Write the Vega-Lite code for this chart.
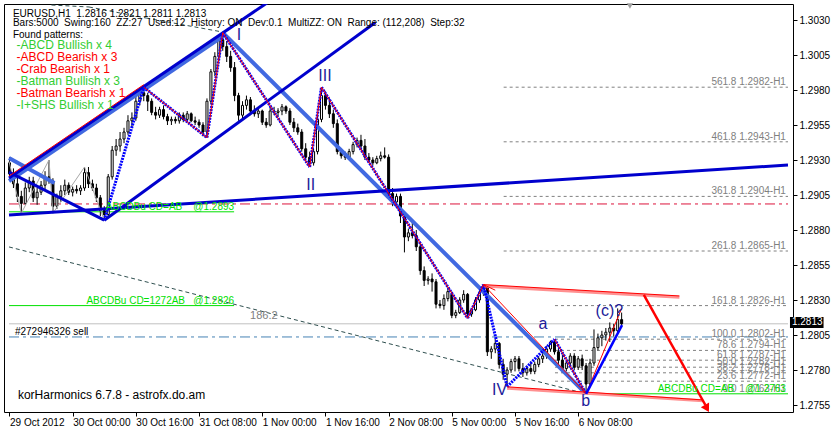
{
"$schema":"https://vega.github.io/schema/vega-lite/v6.json",
"width":789,"height":408,"autosize":"none",
"padding":{"left":4,"top":4,"right":42,"bottom":20},
"background":"white",
"config":{"view":{"stroke":"black","strokeWidth":1},"axis":{"grid":false,"domain":false}},
"datasets":{"candles":[
{"i":0,"o":1.2928,"h":1.2932,"l":1.2918,"c":1.2920},
{"i":1,"o":1.2920,"h":1.2924,"l":1.2910,"c":1.2913},
{"i":2,"o":1.2913,"h":1.2922,"l":1.2900,"c":1.2904},
{"i":3,"o":1.2904,"h":1.2908,"l":1.2892,"c":1.2899},
{"i":4,"o":1.2899,"h":1.2914,"l":1.2898,"c":1.2910},
{"i":5,"o":1.2910,"h":1.2918,"l":1.2907,"c":1.2915},
{"i":6,"o":1.2915,"h":1.2918,"l":1.2900,"c":1.2903},
{"i":7,"o":1.2903,"h":1.2910,"l":1.2898,"c":1.2907},
{"i":8,"o":1.2907,"h":1.2915,"l":1.2905,"c":1.2912},
{"i":9,"o":1.2912,"h":1.2922,"l":1.2909,"c":1.2918},
{"i":10,"o":1.2918,"h":1.2930,"l":1.2913,"c":1.2915},
{"i":11,"o":1.2915,"h":1.2917,"l":1.2892,"c":1.2897},
{"i":12,"o":1.2897,"h":1.2906,"l":1.2895,"c":1.2904},
{"i":13,"o":1.2904,"h":1.2912,"l":1.2900,"c":1.2908},
{"i":14,"o":1.2908,"h":1.2916,"l":1.2905,"c":1.2912},
{"i":15,"o":1.2912,"h":1.2914,"l":1.2905,"c":1.2907},
{"i":16,"o":1.2907,"h":1.2911,"l":1.2904,"c":1.2909},
{"i":17,"o":1.2909,"h":1.2912,"l":1.2906,"c":1.2908},
{"i":18,"o":1.2908,"h":1.2912,"l":1.2905,"c":1.2910},
{"i":19,"o":1.2910,"h":1.2925,"l":1.2908,"c":1.2921},
{"i":20,"o":1.2921,"h":1.2925,"l":1.2910,"c":1.2913},
{"i":21,"o":1.2913,"h":1.2916,"l":1.2908,"c":1.2910},
{"i":22,"o":1.2910,"h":1.2913,"l":1.2900,"c":1.2903},
{"i":23,"o":1.2903,"h":1.2905,"l":1.2890,"c":1.2894},
{"i":24,"o":1.2894,"h":1.2897,"l":1.2887,"c":1.2891},
{"i":25,"o":1.2891,"h":1.2920,"l":1.2889,"c":1.2918},
{"i":26,"o":1.2918,"h":1.2940,"l":1.2916,"c":1.2937},
{"i":27,"o":1.2937,"h":1.2945,"l":1.2933,"c":1.2940},
{"i":28,"o":1.2940,"h":1.2950,"l":1.2936,"c":1.2945},
{"i":29,"o":1.2945,"h":1.2953,"l":1.2942,"c":1.2950},
{"i":30,"o":1.2950,"h":1.2962,"l":1.2948,"c":1.2958},
{"i":31,"o":1.2958,"h":1.2964,"l":1.2953,"c":1.2960},
{"i":32,"o":1.2960,"h":1.2976,"l":1.2958,"c":1.2972},
{"i":33,"o":1.2972,"h":1.2980,"l":1.2969,"c":1.2978},
{"i":34,"o":1.2978,"h":1.2982,"l":1.2972,"c":1.2976},
{"i":35,"o":1.2976,"h":1.2978,"l":1.2965,"c":1.2972},
{"i":36,"o":1.2972,"h":1.2974,"l":1.2962,"c":1.2964},
{"i":37,"o":1.2964,"h":1.2968,"l":1.2959,"c":1.2962},
{"i":38,"o":1.2962,"h":1.2968,"l":1.2960,"c":1.2966},
{"i":39,"o":1.2966,"h":1.2969,"l":1.2959,"c":1.2961},
{"i":40,"o":1.2961,"h":1.2963,"l":1.2955,"c":1.2958},
{"i":41,"o":1.2958,"h":1.2961,"l":1.2955,"c":1.2959},
{"i":42,"o":1.2959,"h":1.2961,"l":1.2956,"c":1.2958},
{"i":43,"o":1.2958,"h":1.2964,"l":1.2956,"c":1.2962},
{"i":44,"o":1.2962,"h":1.2964,"l":1.2957,"c":1.2959},
{"i":45,"o":1.2959,"h":1.2965,"l":1.2957,"c":1.2963},
{"i":46,"o":1.2963,"h":1.2964,"l":1.2957,"c":1.2958},
{"i":47,"o":1.2958,"h":1.2961,"l":1.2955,"c":1.2957},
{"i":48,"o":1.2957,"h":1.2959,"l":1.2953,"c":1.2955},
{"i":49,"o":1.2955,"h":1.2957,"l":1.2947,"c":1.2950},
{"i":50,"o":1.2950,"h":1.2974,"l":1.2946,"c":1.2972},
{"i":51,"o":1.2972,"h":1.2995,"l":1.2970,"c":1.2993},
{"i":52,"o":1.2993,"h":1.3007,"l":1.2990,"c":1.3004},
{"i":53,"o":1.3004,"h":1.3018,"l":1.3001,"c":1.3016},
{"i":54,"o":1.3016,"h":1.3021,"l":1.3008,"c":1.3011},
{"i":55,"o":1.3011,"h":1.3015,"l":1.3000,"c":1.3004},
{"i":56,"o":1.3004,"h":1.3008,"l":1.2993,"c":1.2996},
{"i":57,"o":1.2996,"h":1.3000,"l":1.2972,"c":1.2976},
{"i":58,"o":1.2976,"h":1.2978,"l":1.2958,"c":1.2962},
{"i":59,"o":1.2962,"h":1.2972,"l":1.2960,"c":1.2969},
{"i":60,"o":1.2969,"h":1.2976,"l":1.2966,"c":1.2973},
{"i":61,"o":1.2973,"h":1.2975,"l":1.2962,"c":1.2965},
{"i":62,"o":1.2965,"h":1.2969,"l":1.2961,"c":1.2963},
{"i":63,"o":1.2963,"h":1.2967,"l":1.2960,"c":1.2965},
{"i":64,"o":1.2965,"h":1.2966,"l":1.2955,"c":1.2957},
{"i":65,"o":1.2957,"h":1.2960,"l":1.2953,"c":1.2955},
{"i":66,"o":1.2955,"h":1.2968,"l":1.2954,"c":1.2965},
{"i":67,"o":1.2965,"h":1.2968,"l":1.2962,"c":1.2964},
{"i":68,"o":1.2964,"h":1.2967,"l":1.2961,"c":1.2965},
{"i":69,"o":1.2965,"h":1.2970,"l":1.2962,"c":1.2968},
{"i":70,"o":1.2968,"h":1.2969,"l":1.2963,"c":1.2965},
{"i":71,"o":1.2965,"h":1.2967,"l":1.2955,"c":1.2957},
{"i":72,"o":1.2957,"h":1.2960,"l":1.2950,"c":1.2953},
{"i":73,"o":1.2953,"h":1.2956,"l":1.2948,"c":1.2950},
{"i":74,"o":1.2950,"h":1.2952,"l":1.2936,"c":1.2938},
{"i":75,"o":1.2938,"h":1.2942,"l":1.2930,"c":1.2932},
{"i":76,"o":1.2932,"h":1.2936,"l":1.2925,"c":1.2928},
{"i":77,"o":1.2928,"h":1.2938,"l":1.2926,"c":1.2936},
{"i":78,"o":1.2936,"h":1.2962,"l":1.2934,"c":1.2959},
{"i":79,"o":1.2959,"h":1.2982,"l":1.2957,"c":1.2976},
{"i":80,"o":1.2976,"h":1.2979,"l":1.2966,"c":1.2969},
{"i":81,"o":1.2969,"h":1.2974,"l":1.2960,"c":1.2963},
{"i":82,"o":1.2963,"h":1.2966,"l":1.2953,"c":1.2956},
{"i":83,"o":1.2956,"h":1.2959,"l":1.2934,"c":1.2936},
{"i":84,"o":1.2936,"h":1.2938,"l":1.2931,"c":1.2933},
{"i":85,"o":1.2933,"h":1.2936,"l":1.2930,"c":1.2932},
{"i":86,"o":1.2932,"h":1.2938,"l":1.2931,"c":1.2936},
{"i":87,"o":1.2936,"h":1.2943,"l":1.2934,"c":1.2941},
{"i":88,"o":1.2941,"h":1.2946,"l":1.2939,"c":1.2944},
{"i":89,"o":1.2944,"h":1.2948,"l":1.2937,"c":1.2940},
{"i":90,"o":1.2940,"h":1.2945,"l":1.2930,"c":1.2932},
{"i":91,"o":1.2932,"h":1.2935,"l":1.2928,"c":1.2930},
{"i":92,"o":1.2930,"h":1.2932,"l":1.2926,"c":1.2928},
{"i":93,"o":1.2928,"h":1.2933,"l":1.2927,"c":1.2931},
{"i":94,"o":1.2931,"h":1.2936,"l":1.2929,"c":1.2933},
{"i":95,"o":1.2933,"h":1.2939,"l":1.2931,"c":1.2932},
{"i":96,"o":1.2932,"h":1.2934,"l":1.2903,"c":1.2906},
{"i":97,"o":1.2906,"h":1.2910,"l":1.2897,"c":1.2900},
{"i":98,"o":1.2900,"h":1.2906,"l":1.2898,"c":1.2904},
{"i":99,"o":1.2904,"h":1.2906,"l":1.2885,"c":1.2890},
{"i":100,"o":1.2890,"h":1.2892,"l":1.2864,"c":1.2875},
{"i":101,"o":1.2875,"h":1.2881,"l":1.2872,"c":1.2878},
{"i":102,"o":1.2878,"h":1.2885,"l":1.2874,"c":1.2876},
{"i":103,"o":1.2876,"h":1.2880,"l":1.2865,"c":1.2868},
{"i":104,"o":1.2868,"h":1.2870,"l":1.2848,"c":1.2851},
{"i":105,"o":1.2851,"h":1.2854,"l":1.2840,"c":1.2844},
{"i":106,"o":1.2844,"h":1.2847,"l":1.2841,"c":1.2845},
{"i":107,"o":1.2845,"h":1.2849,"l":1.2836,"c":1.2843},
{"i":108,"o":1.2843,"h":1.2845,"l":1.2824,"c":1.2827},
{"i":109,"o":1.2827,"h":1.2830,"l":1.2824,"c":1.2826},
{"i":110,"o":1.2826,"h":1.2834,"l":1.2823,"c":1.2831},
{"i":111,"o":1.2831,"h":1.2839,"l":1.2829,"c":1.2836},
{"i":112,"o":1.2834,"h":1.2836,"l":1.2817,"c":1.2819},
{"i":113,"o":1.2819,"h":1.2823,"l":1.2817,"c":1.2821},
{"i":114,"o":1.2821,"h":1.2832,"l":1.2820,"c":1.2830},
{"i":115,"o":1.2830,"h":1.2837,"l":1.2828,"c":1.2834},
{"i":116,"o":1.2834,"h":1.2835,"l":1.2817,"c":1.2820},
{"i":117,"o":1.2820,"h":1.2824,"l":1.2818,"c":1.2823},
{"i":118,"o":1.2823,"h":1.2832,"l":1.2822,"c":1.2830},
{"i":119,"o":1.2830,"h":1.2837,"l":1.2828,"c":1.2835},
{"i":120,"o":1.2835,"h":1.2841,"l":1.2833,"c":1.2839},
{"i":121,"o":1.2839,"h":1.2840,"l":1.2790,"c":1.2793},
{"i":122,"o":1.2793,"h":1.2797,"l":1.2788,"c":1.2795},
{"i":123,"o":1.2795,"h":1.2802,"l":1.2792,"c":1.2799},
{"i":124,"o":1.2799,"h":1.2800,"l":1.2781,"c":1.2784},
{"i":125,"o":1.2784,"h":1.2788,"l":1.2773,"c":1.2777},
{"i":126,"o":1.2777,"h":1.2782,"l":1.2768,"c":1.2780},
{"i":127,"o":1.2780,"h":1.2788,"l":1.2778,"c":1.2786},
{"i":128,"o":1.2786,"h":1.2790,"l":1.2779,"c":1.2788},
{"i":129,"o":1.2788,"h":1.2790,"l":1.2779,"c":1.2781},
{"i":130,"o":1.2781,"h":1.2785,"l":1.2775,"c":1.2778},
{"i":131,"o":1.2778,"h":1.2783,"l":1.2776,"c":1.2781},
{"i":132,"o":1.2781,"h":1.2786,"l":1.2777,"c":1.2779},
{"i":133,"o":1.2779,"h":1.2786,"l":1.2777,"c":1.2784},
{"i":134,"o":1.2784,"h":1.2790,"l":1.2782,"c":1.2788},
{"i":135,"o":1.2788,"h":1.2792,"l":1.2785,"c":1.2790},
{"i":136,"o":1.2790,"h":1.2797,"l":1.2788,"c":1.2795},
{"i":137,"o":1.2795,"h":1.2801,"l":1.2793,"c":1.2800},
{"i":138,"o":1.2800,"h":1.2802,"l":1.2791,"c":1.2793},
{"i":139,"o":1.2793,"h":1.2796,"l":1.2784,"c":1.2787},
{"i":140,"o":1.2787,"h":1.2791,"l":1.2778,"c":1.2781},
{"i":141,"o":1.2781,"h":1.2787,"l":1.2779,"c":1.2785},
{"i":142,"o":1.2785,"h":1.2792,"l":1.2783,"c":1.2790},
{"i":143,"o":1.2790,"h":1.2792,"l":1.2780,"c":1.2782},
{"i":144,"o":1.2782,"h":1.2790,"l":1.2780,"c":1.2788},
{"i":145,"o":1.2788,"h":1.2791,"l":1.2780,"c":1.2783},
{"i":146,"o":1.2783,"h":1.2785,"l":1.2763,"c":1.2770},
{"i":147,"o":1.2770,"h":1.2788,"l":1.2768,"c":1.2785},
{"i":148,"o":1.2785,"h":1.2809,"l":1.2783,"c":1.2796},
{"i":149,"o":1.2796,"h":1.2806,"l":1.2794,"c":1.2803},
{"i":150,"o":1.2803,"h":1.2808,"l":1.2797,"c":1.2805},
{"i":151,"o":1.2805,"h":1.2810,"l":1.2801,"c":1.2807},
{"i":152,"o":1.2807,"h":1.2814,"l":1.2800,"c":1.2810},
{"i":153,"o":1.2810,"h":1.2813,"l":1.2804,"c":1.2808},
{"i":154,"o":1.2808,"h":1.2824,"l":1.2806,"c":1.2816},
{"i":155,"o":1.2816,"h":1.2821,"l":1.2811,"c":1.2813}
]},
"encoding":{
"x":{"field":"i","type":"quantitative","scale":{"domain":[-0.125,197.125],"nice":false,"zero":false},
"axis":{"values":[0,16,32,48,64,80,96,112,128,144],"labelExpr":"['29 Oct 2012','30 Oct 00:00','30 Oct 16:00','31 Oct 08:00','1 Nov 00:00','1 Nov 16:00','2 Nov 08:00','5 Nov 00:00','5 Nov 16:00','6 Nov 08:00'][round(datum.value/16)]","labelAlign":"left","labelBaseline":"top","labelPadding":1,"labelDx":1,"tickSize":4,"tickColor":"black","title":null,"labelFont":"Liberation Sans","labelFontSize":10,"labelColor":"black","labelOverlap":false,"labelFlush":false,"labelBound":false}},
"y":{"field":"p","type":"quantitative","scale":{"domain":[1.275,1.304143],"nice":false,"zero":false},
"axis":{"orient":"right","values":[1.2755,1.278,1.2805,1.283,1.2855,1.288,1.2905,1.293,1.2955,1.298,1.3005,1.303],"format":".4f","tickSize":4,"tickColor":"black","labelPadding":2,"title":null,"labelFont":"Liberation Sans","labelFontSize":10,"labelColor":"black","labelOverlap":false,"labelFlush":false}}
},
"layer":[
{"data":{"values":[{"i":-0.125,"i2":197.125,"p":1.28986,"p2":1.28986}]},"mark":{"type":"rule","color":"#DC143C","strokeWidth":1,"strokeDash":[10,4,3,4]},"encoding":{"x2":{"field":"i2"},"y2":{"field":"p2"}}},
{"data":{"values":[{"i":-0.125,"i2":197.125,"p":1.28036,"p2":1.28036}]},"mark":{"type":"rule","color":"#4682B4","strokeWidth":1,"strokeDash":[10,4,3,4]},"encoding":{"x2":{"field":"i2"},"y2":{"field":"p2"}}},
{"data":{"values":[{"i":-0.125,"i2":197.125,"p":1.2813,"p2":1.2813}]},"mark":{"type":"rule","color":"#C0C0C0","strokeWidth":1},"encoding":{"x2":{"field":"i2"},"y2":{"field":"p2"}}},
{"data":{"values":[
{"i":125.125,"i2":197.125,"p":1.2982,"p2":1.2982},{"i":125.125,"i2":197.125,"p":1.2943,"p2":1.2943},{"i":125.125,"i2":197.125,"p":1.2904,"p2":1.2904},{"i":125.125,"i2":197.125,"p":1.2865,"p2":1.2865},
{"i":138.125,"i2":197.125,"p":1.2826,"p2":1.2826},{"i":138.125,"i2":197.125,"p":1.2802,"p2":1.2802},{"i":138.125,"i2":197.125,"p":1.2794,"p2":1.2794},{"i":138.125,"i2":197.125,"p":1.2787,"p2":1.2787},{"i":138.125,"i2":197.125,"p":1.2782,"p2":1.2782},{"i":138.125,"i2":197.125,"p":1.2778,"p2":1.2778},{"i":138.125,"i2":197.125,"p":1.2772,"p2":1.2772}]},
"mark":{"type":"rule","color":"#808080","strokeWidth":1,"strokeDash":[3,3]},"encoding":{"x2":{"field":"i2"},"y2":{"field":"p2"}}},
{"data":{"values":[{"i":-0.125,"i2":56.875,"p":1.2893,"p2":1.2893},{"i":-0.125,"i2":56.875,"p":1.2826,"p2":1.2826},{"i":146.375,"i2":197.125,"p":1.2763,"p2":1.2763}]},"mark":{"type":"rule","color":"#00E000","strokeWidth":1},"encoding":{"x2":{"field":"i2"},"y2":{"field":"p2"}}},
{"data":{"values":[{"i":-0.125,"i2":146,"p":1.28679,"p2":1.2763},{"i":10.625,"i2":20.125,"p":1.30407,"p2":1.30393},{"i":20.125,"i2":34.625,"p":1.30393,"p2":1.30314},{"i":34.625,"i2":54,"p":1.30314,"p2":1.30214}]},"mark":{"type":"rule","color":"#2F4F4F","strokeWidth":1,"strokeDash":[4,3],"clip":true},"encoding":{"x2":{"field":"i2"},"y2":{"field":"p2"}}},
{"data":{"name":"candles"},"mark":{"type":"rule","color":"black","strokeWidth":1},"encoding":{"y":{"field":"l","type":"quantitative","scale":{"domain":[1.275,1.304143],"nice":false,"zero":false},"axis":{"orient":"right","values":[1.2755,1.278,1.2805,1.283,1.2855,1.288,1.2905,1.293,1.2955,1.298,1.3005,1.303],"format":".4f","tickSize":4,"tickColor":"black","labelPadding":2,"title":null,"labelFont":"Liberation Sans","labelFontSize":10,"labelColor":"black","labelOverlap":false,"labelFlush":false}},"y2":{"field":"h"}}},
{"data":{"name":"candles"},"mark":{"type":"bar","size":2,"stroke":"black","strokeWidth":1},"encoding":{"y":{"field":"o","type":"quantitative","scale":{"domain":[1.275,1.304143],"nice":false,"zero":false},"axis":{"orient":"right","values":[1.2755,1.278,1.2805,1.283,1.2855,1.288,1.2905,1.293,1.2955,1.298,1.3005,1.303],"format":".4f","tickSize":4,"tickColor":"black","labelPadding":2,"title":null,"labelFont":"Liberation Sans","labelFontSize":10,"labelColor":"black","labelOverlap":false,"labelFlush":false}},"y2":{"field":"c"},"fill":{"condition":{"test":"datum.c >= datum.o","value":"white"},"value":"black"}}},
{"data":{"values":[{"i":-0.125,"i2":3,"p":1.2929,"p2":1.2892},{"i":3,"i2":10,"p":1.2892,"p2":1.2930},{"i":10,"i2":11,"p":1.2930,"p2":1.2892},{"i":11,"i2":19,"p":1.2892,"p2":1.2925},{"i":19,"i2":24,"p":1.2925,"p2":1.2887}]},"mark":{"type":"rule","color":"#A8A8A8","strokeWidth":1},"encoding":{"x2":{"field":"i2"},"y2":{"field":"p2"}}},
{"data":{"values":[{"i":-0.125,"i2":11.375,"p":1.29314,"p2":1.29136},{"i":54,"i2":146,"p":1.3021,"p2":1.2763},{"i":-0.125,"i2":54.375,"p":1.2915,"p2":1.3019}]},"mark":{"type":"rule","color":"#4169E1","strokeWidth":4,"clip":true},"encoding":{"x2":{"field":"i2"},"y2":{"field":"p2"}}},
{"data":{"values":[{"i":-0.125,"i2":66,"p":1.29171,"p2":1.30437},{"i":24,"i2":92.625,"p":1.2887,"p2":1.30282},{"i":-0.125,"i2":24,"p":1.29214,"p2":1.2887},{"i":-0.125,"i2":197.125,"p":1.28907,"p2":1.29264}]},"mark":{"type":"rule","color":"#0000CD","strokeWidth":3,"clip":true},"encoding":{"x2":{"field":"i2"},"y2":{"field":"p2"}}},
{"data":{"values":[{"i":120,"i2":169.625,"p":1.2840,"p2":1.2832},{"i":126,"i2":175.625,"p":1.2767,"p2":1.2758}]},"mark":{"type":"rule","color":"#FF9090","strokeWidth":3},"encoding":{"x2":{"field":"i2"},"y2":{"field":"p2"}}},
{"data":{"values":[{"i":24,"i2":34,"p":1.2887,"p2":1.2982},{"i":34,"i2":50,"p":1.2982,"p2":1.2946},{"i":50,"i2":54,"p":1.2946,"p2":1.3021},{"i":54,"i2":76,"p":1.3021,"p2":1.2925},{"i":76,"i2":79,"p":1.2925,"p2":1.2982},{"i":79,"i2":116,"p":1.2982,"p2":1.2817},{"i":116,"i2":120,"p":1.2817,"p2":1.2841},{"i":120,"i2":126,"p":1.2841,"p2":1.2768},{"i":126,"i2":138,"p":1.2768,"p2":1.2802},{"i":138,"i2":146,"p":1.2802,"p2":1.2763}]},"mark":{"type":"rule","color":"#0000FF","strokeWidth":3,"strokeDash":[2,1]},"encoding":{"x2":{"field":"i2"},"y2":{"field":"p2"}}},
{"data":{"values":[{"i":34,"i2":50,"p":1.2982,"p2":1.2946},{"i":50,"i2":54,"p":1.2946,"p2":1.3021},{"i":54,"i2":76,"p":1.3021,"p2":1.2925},{"i":76,"i2":79,"p":1.2925,"p2":1.2982},{"i":79,"i2":116,"p":1.2982,"p2":1.2817},{"i":116,"i2":120,"p":1.2817,"p2":1.2841},{"i":120,"i2":146,"p":1.2841,"p2":1.2763},{"i":138,"i2":146,"p":1.2802,"p2":1.2763},{"i":146,"i2":155,"p":1.2763,"p2":1.2824},{"i":120,"i2":169.625,"p":1.2841,"p2":1.28329},{"i":126,"i2":175.625,"p":1.2768,"p2":1.27586},{"i":-0.125,"i2":34,"p":1.29185,"p2":1.29838},{"i":120,"i2":123,"p":1.2841,"p2":1.2837}]},"mark":{"type":"rule","color":"#FF0000","strokeWidth":1,"clip":true},"encoding":{"x2":{"field":"i2"},"y2":{"field":"p2"}}},
{"data":{"values":[{"i":160.625,"i2":176.2,"p":1.28336,"p2":1.2755}]},"mark":{"type":"rule","color":"#FF0000","strokeWidth":2.5},"encoding":{"x2":{"field":"i2"},"y2":{"field":"p2"}}},
{"data":{"values":[{"i":146,"i2":155.1,"p":1.2763,"p2":1.28121}]},"mark":{"type":"rule","color":"#0000FF","strokeWidth":2.5},"encoding":{"x2":{"field":"i2"},"y2":{"field":"p2"}}},
{"data":{"values":[{"i":176.6,"p":1.27525}]},"mark":{"type":"point","shape":"triangle-down","angle":331,"size":90,"filled":true,"color":"#FF0000","opacity":1}},
{"data":{"values":[{"i":157.1,"p":1.3040}]},"mark":{"type":"point","shape":"triangle-down","size":40,"filled":true,"color":"#A0A0A0","opacity":1}},
{"data":{"values":[
{"i":196.6,"p":1.2982,"t":"561.8 1.2982-H1"},{"i":196.6,"p":1.2943,"t":"461.8 1.2943-H1"},{"i":196.6,"p":1.2904,"t":"361.8 1.2904-H1"},{"i":196.6,"p":1.2865,"t":"261.8 1.2865-H1"},{"i":196.6,"p":1.2826,"t":"161.8 1.2826-H1"},{"i":196.6,"p":1.2802,"t":"100.0 1.2802-H1"},{"i":196.6,"p":1.2794,"t":"78.6 1.2794-H1"},{"i":196.6,"p":1.2787,"t":"61.8 1.2787-H1"},{"i":196.6,"p":1.2782,"t":"50.0 1.2782-H1"},{"i":196.6,"p":1.2778,"t":"38.2 1.2778-H1"},{"i":196.6,"p":1.2772,"t":"23.6 1.2772-H1"},{"i":196.6,"p":1.2763,"t":"0.0 1.2763-H1"}]},
"mark":{"type":"text","align":"right","baseline":"alphabetic","dy":-2,"font":"Liberation Sans","fontSize":10,"color":"#808080"},"encoding":{"text":{"field":"t"}}},
{"data":{"values":[{"i":56.875,"p":1.2893,"t":"ABCDBu CD=AB\u00a0\u00a0\u00a0\u00a0@1.2893"},{"i":56.875,"p":1.2826,"t":"ABCDBu CD=1272AB\u00a0\u00a0\u00a0@1.2826"},{"i":196.6,"p":1.2763,"t":"ABCDBu CD=AB\u00a0\u00a0\u00a0\u00a0@1.2763"}]},
"mark":{"type":"text","align":"right","baseline":"alphabetic","dy":-2,"font":"Liberation Sans","fontSize":10,"color":"#00E000"},"encoding":{"text":{"field":"t"}}},
{"data":{"values":[{"i":64.4,"p":1.28186,"t":"186.2"}]},"mark":{"type":"text","align":"center","baseline":"middle","font":"Liberation Sans","fontSize":11,"color":"#808080"},"encoding":{"text":{"field":"t"}}},
{"data":{"values":[{"i":1.375,"p":1.28036,"t":"#272946326 sell"}]},"mark":{"type":"text","align":"left","baseline":"alphabetic","dy":-2,"font":"Liberation Sans","fontSize":10,"color":"black"},"encoding":{"text":{"field":"t"}}},
{"data":{"values":[{"i":0.875,"p":1.30346,"t":"EURUSD,H1\u00a0\u00a01.2816 1.2821 1.2811 1.2813"},{"i":0.875,"p":1.30276,"t":"Bars:5000\u00a0\u00a0Swing:160\u00a0\u00a0ZZ:27\u00a0\u00a0Used:12\u00a0\u00a0History: ON\u00a0\u00a0Dev:0.1\u00a0\u00a0MultiZZ: ON\u00a0\u00a0Range: (112,208)\u00a0\u00a0Step:32"},{"i":0.875,"p":1.30193,"t":"Found patterns:"}]},
"mark":{"type":"text","align":"left","baseline":"middle","font":"Liberation Sans","fontSize":10,"color":"black"},"encoding":{"text":{"field":"t"}}},
{"data":{"values":[{"i":2.125,"p":1.27621,"t":"korHarmonics 6.7.8 - astrofx.do.am"}]},"mark":{"type":"text","align":"left","baseline":"middle","font":"Liberation Sans","fontSize":12,"color":"black"},"encoding":{"text":{"field":"t"}}},
{"data":{"values":[{"i":1.8,"p":1.30121,"t":"-ABCD Bullish x 4"},{"i":1.8,"p":1.29864,"t":"-Batman Bullish x 3"},{"i":1.8,"p":1.29693,"t":"-I+SHS Bullish x 1"}]},"mark":{"type":"text","align":"left","baseline":"middle","font":"Liberation Sans","fontSize":12,"color":"#32CD32"},"encoding":{"text":{"field":"t"}}},
{"data":{"values":[{"i":1.8,"p":1.30036,"t":"-ABCD Bearish x 3"},{"i":1.8,"p":1.2995,"t":"-Crab Bearish x 1"},{"i":1.8,"p":1.29779,"t":"-Batman Bearish x 1"}]},"mark":{"type":"text","align":"left","baseline":"middle","font":"Liberation Sans","fontSize":12,"color":"#FF0000"},"encoding":{"text":{"field":"t"}}},
{"data":{"values":[{"i":58.1,"p":1.30196,"t":"I"},{"i":76.25,"p":1.29121,"t":"II"},{"i":79.9,"p":1.299,"t":"III"},{"i":124.1,"p":1.27657,"t":"IV"},{"i":135.1,"p":1.28129,"t":"a"},{"i":145.9,"p":1.27579,"t":"b"},{"i":151.9,"p":1.28218,"t":"(c)?"}]},
"mark":{"type":"text","align":"center","baseline":"middle","font":"Liberation Sans","fontSize":16,"color":"#1C1C9A"},"encoding":{"text":{"field":"t"}}},
{"data":{"values":[{"i":197.625,"i2":206.125,"p":1.28179,"p2":1.281}]},"mark":{"type":"rect","color":"black"},"encoding":{"x2":{"field":"i2"},"y2":{"field":"p2"}}},
{"data":{"values":[{"i":198.125,"p":1.2814,"t":"1.2813"}]},"mark":{"type":"text","align":"left","baseline":"middle","font":"Liberation Sans","fontSize":10,"color":"white"},"encoding":{"text":{"field":"t"}}}
]
}
